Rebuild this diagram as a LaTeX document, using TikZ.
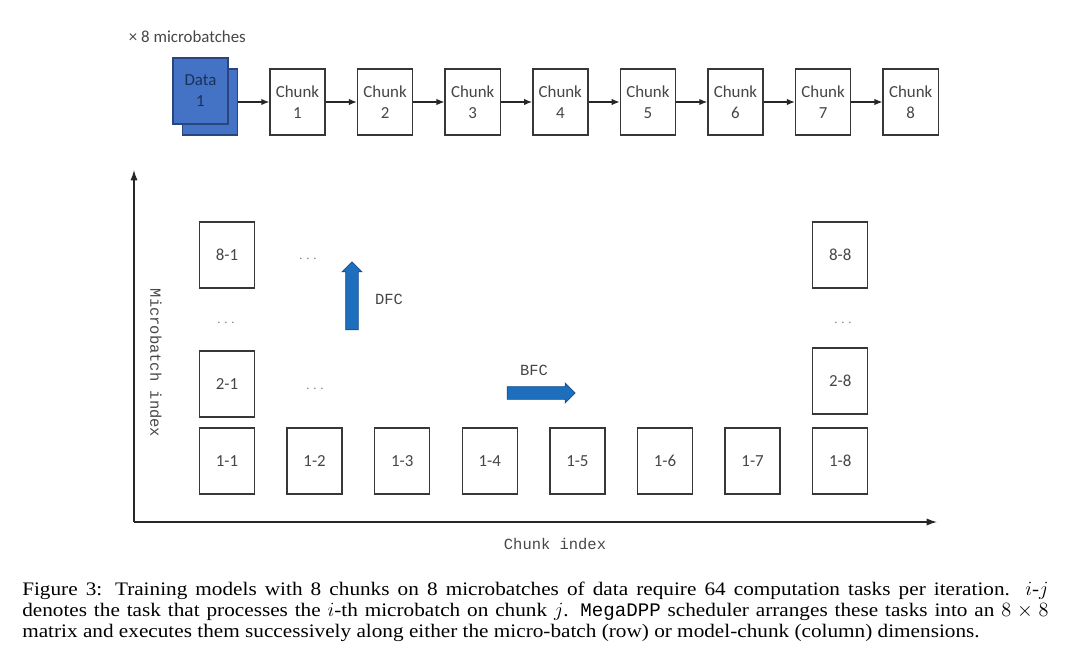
\documentclass[tikz,border=0pt]{standalone}
\usepackage{fontspec}
\setmainfont{Liberation Serif}
\setsansfont{Carlito}
\setmonofont{Liberation Mono}
\usetikzlibrary{arrows.meta,positioning,shapes.arrows}
\definecolor{datablue}{RGB}{68,114,196}
\definecolor{dataedge}{RGB}{40,70,125}
\definecolor{flowblue}{RGB}{30,110,190}
\definecolor{flowedge}{RGB}{22,78,140}
\definecolor{inkgray}{RGB}{55,55,55}
\definecolor{textgray}{RGB}{70,70,70}
\tikzset{
  box/.style={draw=inkgray,line width=1pt,fill=white,minimum width=1.375cm,minimum height=1.65cm,inner sep=0pt,align=center,font=\sffamily\fontsize{12}{15}\selectfont,text=textgray},
  chunk/.style={box},
  task/.style={box},
  data/.style={box,fill=datablue,draw=dataedge,text=dataedge!70!black},
  dots/.style={font=\sffamily\small,text=textgray!70},
  axlabel/.style={font=\ttfamily\fontsize{11}{13}\selectfont,text=textgray},
  link/.style={-{Latex[length=2mm,width=1.6mm]},draw=black!85,line width=0.9pt},
  axis/.style={-{Latex[length=2.6mm,width=1.8mm]},draw=black!85,line width=0.9pt},
  flow/.style={single arrow,draw=flowedge,fill=flowblue,line width=0.5pt,inner xsep=0pt,inner ysep=0.15cm,single arrow head extend=0.09cm,single arrow head indent=0pt,minimum height=1.7cm}
}
\begin{document}
\begin{tikzpicture}[x=0.025cm,y=-0.025cm]
  \useasboundingbox (0,0) rectangle (1080,657);

  % data and the chain of chunks
  \node[anchor=west,font=\sffamily\fontsize{12}{14}\selectfont,text=textgray] (times) at (124,37) {× 8 microbatches};
  \node[data] (databack) at (210,102) {};
  \node[data] (data) at (200.5,91) {Data\\1};
  \foreach \i in {1,...,8}
    \node[chunk] (c\i) at ({297.5+87.6*(\i-1)},102) {Chunk\\\i};
  \draw[link] (databack.east) -- (c1.west);
  \foreach \i [evaluate=\i as \j using int(\i+1)] in {1,...,7}
    \draw[link] (c\i.east) -- (c\j.west);

  % axes
  \coordinate (o) at (134,522);
  \coordinate (ytop) at (134,170);
  \coordinate (xend) at (937,522);
  \draw[axis] (o) -- (ytop);
  \draw[axis] (o) -- (xend);
  \node[axlabel,rotate=-90] (ylab) at (156,363) {Microbatch index};
  \node[axlabel] (xlab) at (555,544) {Chunk index};

  % task matrix
  \foreach \j in {1,...,8}
    \node[task] (t1-\j) at ({227+87.6*(\j-1)},461) {1-\j};
  \node[task] (t2-1) at (227,384) {2-1};
  \node[task] (t8-1) at (227,255) {8-1};
  \node[task] (t2-8) at (840.2,381) {2-8};
  \node[task] (t8-8) at (840.2,255) {8-8};
  \node[dots] (d1) at (308,259) {. . .};
  \node[dots] (d2) at (226,323) {. . .};
  \node[dots] (d3) at (315,389) {. . .};
  \node[dots] (d4) at (843,323) {. . .};

  % DFC / BFC
  \node[flow,rotate=90] (dfc) at (352,299) {};
  \node[axlabel] (dfclab) at (389,299) {DFC};
  \node[flow] (bfc) at (538,393) {};
  \node[axlabel] (bfclab) at (534,370) {BFC};

  % caption
  \node[anchor=north west,text width=25.65cm,align=justify,inner sep=0pt,font=\fontsize{13.6}{14.8}\selectfont\addfontfeature{FakeStretch=1.11}] (cap) at (22,582)
    {Figure 3: Training models with 8 chunks on 8 microbatches of data require 64 computation tasks per iteration. $i$-$j$\linebreak
     denotes the task that processes the $i$-th microbatch on chunk $j$. \texttt{MegaDPP} scheduler arranges these tasks into an $8\times 8$\linebreak
     matrix and executes them successively along either the micro-batch (row) or model-chunk (column) dimensions.};
\end{tikzpicture}
\end{document}
